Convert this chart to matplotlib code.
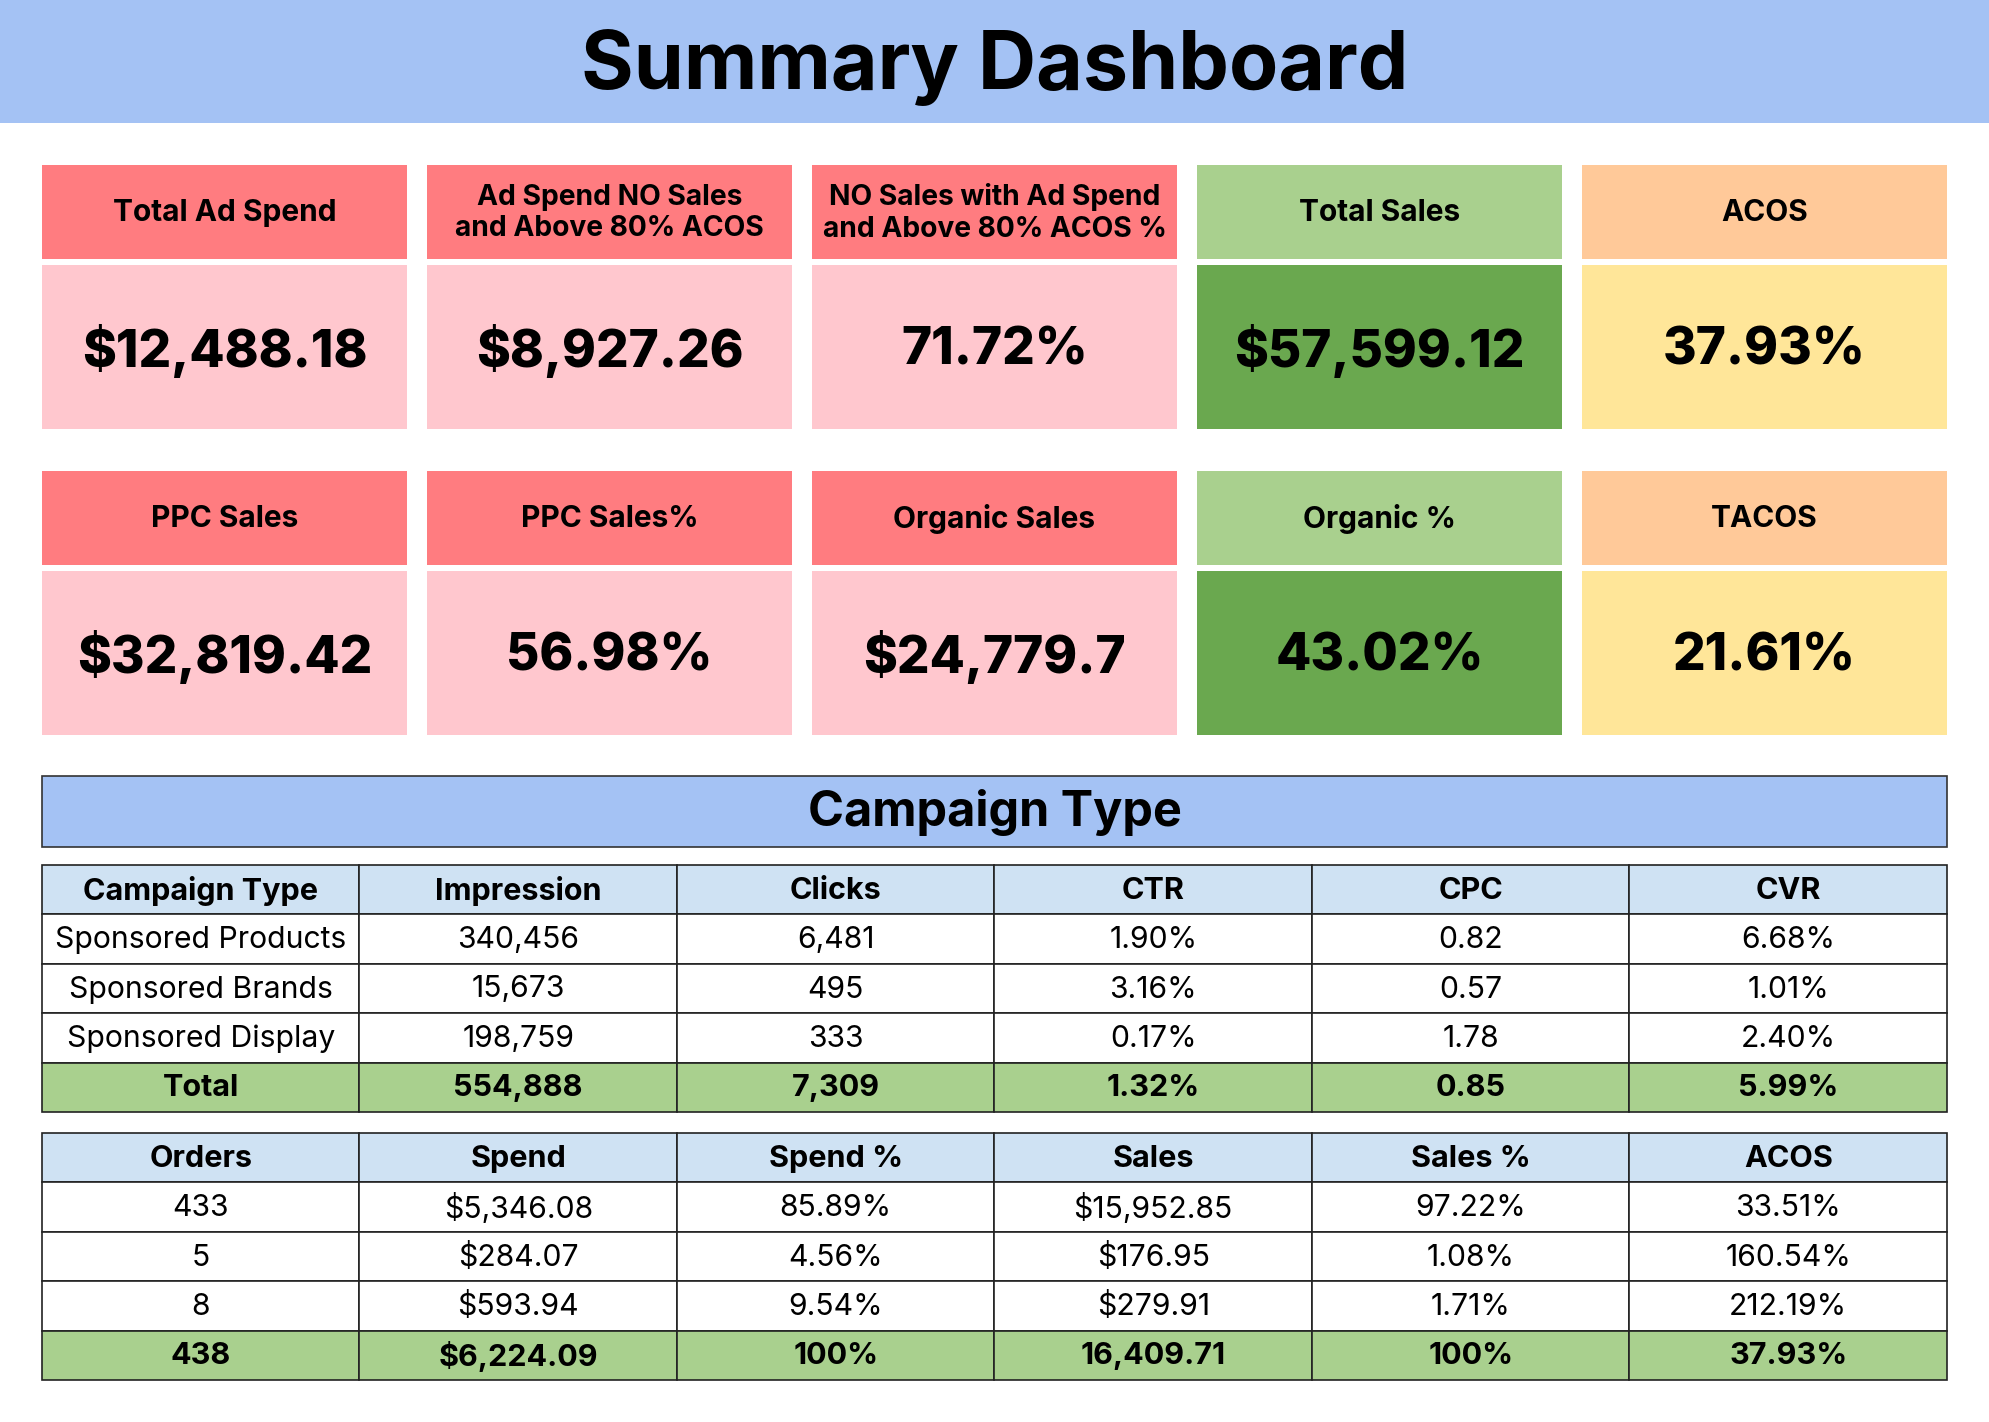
import matplotlib
matplotlib.use("Agg")
import matplotlib.pyplot as plt
from matplotlib.patches import Rectangle

plt.rcParams['font.family'] = ['Inter', 'DejaVu Sans']

# ---- data ----
title = "Summary Dashboard"
section_title = "Campaign Type"

card_titles_top = ["Total Ad Spend", "Ad Spend NO Sales\nand Above 80% ACOS",
                   "NO Sales with Ad Spend\nand Above 80% ACOS %", "Total Sales", "ACOS"]
card_values_top = ["$12,488.18", "$8,927.26", "71.72%", "$57,599.12", "37.93%"]
card_titles_bottom = ["PPC Sales", "PPC Sales%", "Organic Sales", "Organic %", "TACOS"]
card_values_bottom = ["$32,819.42", "56.98%", "$24,779.7", "43.02%", "21.61%"]

table1_cols = ["Campaign Type", "Impression", "Clicks", "CTR", "CPC", "CVR"]
campaign_types = ["Sponsored Products", "Sponsored Brands", "Sponsored Display", "Total"]
impressions = ["340,456", "15,673", "198,759", "554,888"]
clicks = ["6,481", "495", "333", "7,309"]
ctr = ["1.90%", "3.16%", "0.17%", "1.32%"]
cpc = ["0.82", "0.57", "1.78", "0.85"]
cvr = ["6.68%", "1.01%", "2.40%", "5.99%"]

table2_cols = ["Orders", "Spend", "Spend %", "Sales", "Sales %", "ACOS"]
orders = ["433", "5", "8", "438"]
spend = ["$5,346.08", "$284.07", "$593.94", "$6,224.09"]
spend_pct = ["85.89%", "4.56%", "9.54%", "100%"]
sales = ["$15,952.85", "$176.95", "$279.91", "16,409.71"]
sales_pct = ["97.22%", "1.08%", "1.71%", "100%"]
acos = ["33.51%", "160.54%", "212.19%", "37.93%"]

# colours: (header, value box) per card column
card_colors = [("#FF7C80", "#FFC7CE"), ("#FF7C80", "#FFC7CE"), ("#FF7C80", "#FFC7CE"),
               ("#A9D08E", "#6AA84F"), ("#FFC999", "#FFE699")]
blue = "#A4C2F4"
table_head = "#CFE2F3"
total_green = "#A9D08E"

W, H = 1989, 1422
fig = plt.figure(figsize=(W / 100, H / 100), dpi=100)
ax = fig.add_axes([0, 0, 1, 1])
ax.set_xlim(0, W)
ax.set_ylim(H, 0)
ax.axis("off")

# title band
ax.add_patch(Rectangle((0, 0), W, 123, color=blue, lw=0))
ax.text(W / 2, 67, title, ha="center", va="center", fontsize=58, fontweight="bold")

# cards
x0, cw, pitch = 42, 365, 385


def draw_cards(titles, values, y_head, y_val):
    for i, (t, v) in enumerate(zip(titles, values)):
        x = x0 + i * pitch
        hc, vc = card_colors[i]
        ax.add_patch(Rectangle((x, y_head), cw, 94, color=hc, lw=0))
        ax.add_patch(Rectangle((x, y_val), cw, 164, color=vc, lw=0))
        size = 20.3 if "\n" in t else 21.5
        ax.text(x + cw / 2, y_head + 48, t, ha="center", va="center",
                fontsize=size, fontweight="bold", linespacing=1.2)
        ax.text(x + cw / 2, y_val + 86, v, ha="center", va="center",
                fontsize=37, fontweight="heavy")


draw_cards(card_titles_top, card_values_top, 165, 265)
draw_cards(card_titles_bottom, card_values_bottom, 471, 571)

# section banner
tx0, tx1 = 42, 1947
ax.add_patch(Rectangle((tx0, 776), tx1 - tx0, 71, facecolor=blue, edgecolor="#333333", lw=1.2))
ax.text(W / 2, 813, section_title, ha="center", va="center", fontsize=35, fontweight="bold")


def draw_table(cols, columns, y_top, rh=49.4):
    ncol = len(cols)
    colw = (tx1 - tx0) / ncol
    nrow = len(columns[0]) + 1
    for r in range(nrow):
        y = y_top + r * rh
        if r == 0:
            fc = table_head
        elif r == nrow - 1:
            fc = total_green
        else:
            fc = "white"
        for c in range(ncol):
            x = tx0 + c * colw
            ax.add_patch(Rectangle((x, y), colw, rh, facecolor=fc, edgecolor="#222222", lw=1.2))
            bold = r == 0 or r == nrow - 1
            txt = cols[c] if r == 0 else columns[c][r - 1]
            ax.text(x + colw / 2, y + rh / 2 + 1, txt, ha="center", va="center",
                    fontsize=21.7 if not bold else 22, fontweight="bold" if bold else "normal")


draw_table(table1_cols, [campaign_types, impressions, clicks, ctr, cpc, cvr], 865)
draw_table(table2_cols, [orders, spend, spend_pct, sales, sales_pct, acos], 1133)

fig.savefig("out.png", dpi=100)
